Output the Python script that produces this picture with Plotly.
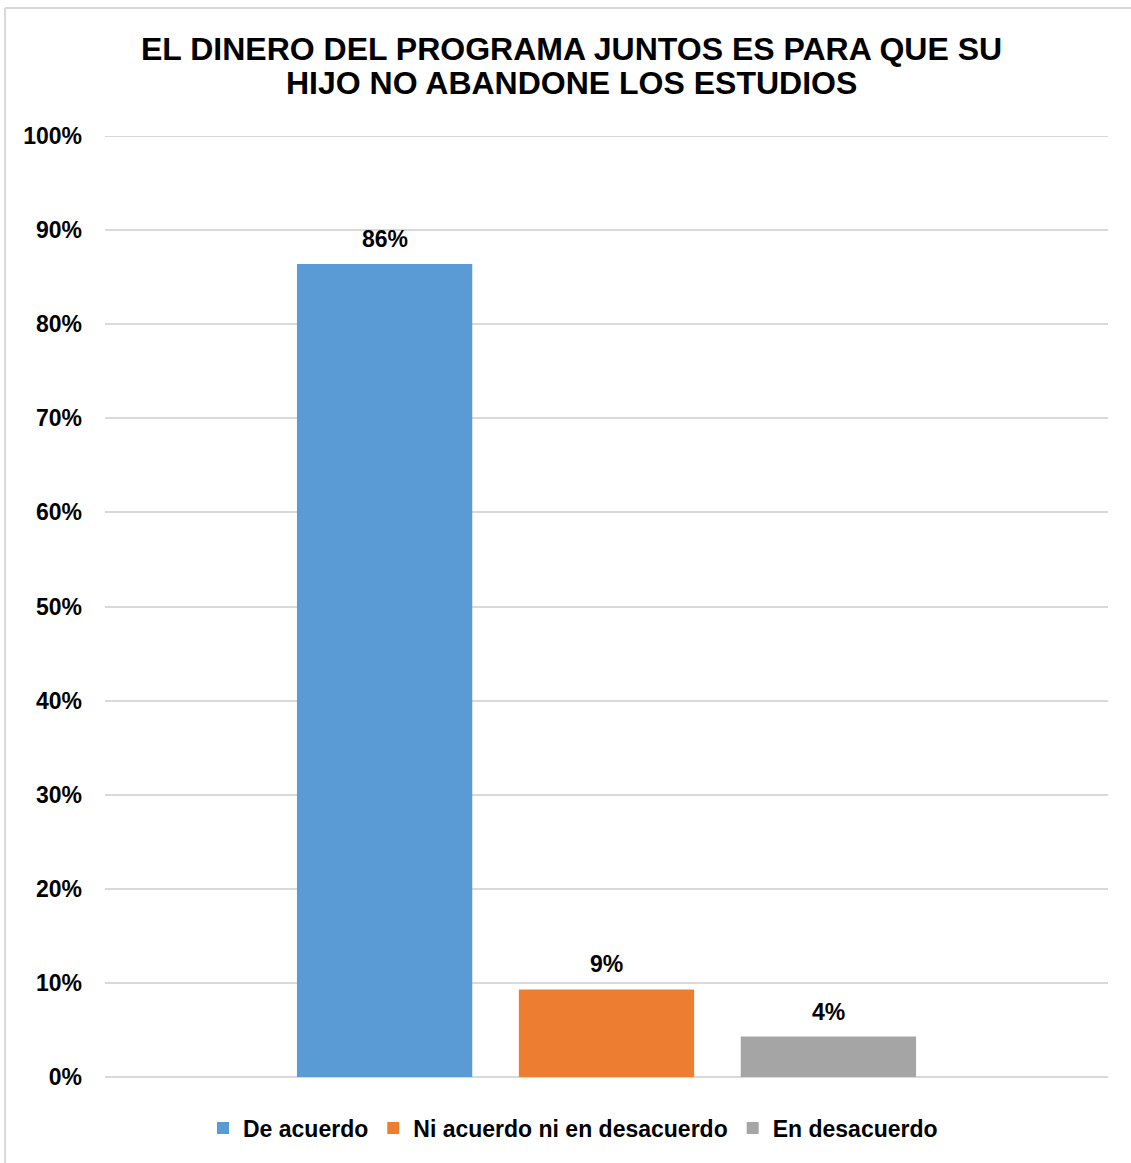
import plotly.graph_objects as go

categories = ["De acuerdo", "Ni acuerdo ni en desacuerdo", "En desacuerdo"]
values = [86.4, 9.3, 4.3]
labels = ["86%", "9%", "4%"]
colors = ["#5B9BD5", "#ED7D31", "#A5A5A5"]
tick_vals = [0, 10, 20, 30, 40, 50, 60, 70, 80, 90, 100]
tick_text = [f"{v}%" for v in tick_vals]
title_lines = ["EL DINERO DEL PROGRAMA JUNTOS ES PARA QUE SU",
               "HIJO NO ABANDONE LOS ESTUDIOS"]

W, H = 1131, 1163
L, R, T, B = 105, 23, 136, 86
FONT = "Liberation Sans, Arial, sans-serif"
GRID = "#D9D9D9"

fig = go.Figure()
for cat, val, col in zip(categories, values, colors):
    fig.add_trace(go.Bar(
        x=[cat], y=[val], name=cat, width=0.79,
        marker=dict(color=col, line=dict(width=0)),
    ))

for cat, val, lab in zip(categories, values, labels):
    fig.add_annotation(
        x=cat, y=val, text=lab, showarrow=False, xref="x", yref="y",
        yanchor="bottom", yshift=10,
        font=dict(family=FONT, size=23, color="#000000", weight="bold"),
    )

pw, ph = W - L - R, H - T - B
for line, ypx in zip(title_lines, [48.5, 83.5]):
    fig.add_annotation(
        text=line, showarrow=False, xref="paper", yref="paper",
        x=(571 - L) / pw, y=1 + (T - ypx) / ph, xanchor="center", yanchor="middle",
        font=dict(family=FONT, size=32, color="#000000", weight="bold"),
    )

fig.update_layout(
    width=W, height=H,
    margin=dict(l=L, r=R, t=T, b=B),
    paper_bgcolor="white", plot_bgcolor="white",
    barmode="overlay",
    font=dict(family=FONT, color="#000000"),
    showlegend=True,
    legend=dict(
        orientation="h", x=573 / W, xref="container", xanchor="center",
        y=1 - 1128 / H, yref="container", yanchor="middle",
        font=dict(family=FONT, size=23, color="#000000", weight="bold"),
        itemwidth=30, traceorder="normal",
    ),
)
fig.update_yaxes(
    range=[0, 100], tickvals=tick_vals, ticktext=tick_text,
    showgrid=True, gridcolor=GRID, gridwidth=2,
    zeroline=True, zerolinecolor=GRID, zerolinewidth=2,
    showline=False, ticks="", ticklabelstandoff=22,
    tickfont=dict(family=FONT, size=23, color="#000000", weight="bold"),
)
fig.update_xaxes(type="category", range=[-1.26, 3.26], showticklabels=False,
                 showgrid=False, showline=False, ticks="", zeroline=False)

# top gridline (at the axis edge, which plotly omits)
fig.add_shape(type="line", xref="paper", yref="y", x0=0, x1=1,
              y0=tick_vals[-1], y1=tick_vals[-1], line=dict(color=GRID, width=2), layer="below")

# chart border (top and left visible)
x0 = (5 - L) / pw
x1 = (W + 5 - L) / pw
y_top = 1 + (T - 8) / ph
y_bot = -(B + 5) / ph
fig.add_shape(type="line", xref="paper", yref="paper", x0=x0, x1=x1, y0=y_top, y1=y_top,
              line=dict(color=GRID, width=2))
fig.add_shape(type="line", xref="paper", yref="paper", x0=x0, x1=x0, y0=y_bot, y1=y_top,
              line=dict(color=GRID, width=2))

fig.write_html("out.html", config={"displayModeBar": False},
               post_script="document.body.style.margin='0';")
